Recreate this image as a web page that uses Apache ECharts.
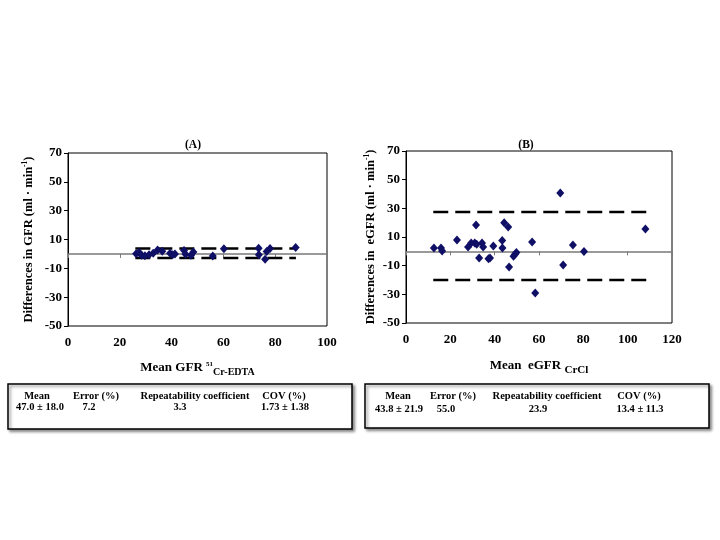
<!DOCTYPE html>
<html>
<head>
<meta charset="utf-8">
<script src="https://cdn.jsdelivr.net/npm/echarts@6/dist/echarts.min.js"></script>
<style>html,body{margin:0;padding:0;background:#fff}#c{width:720px;height:540px}</style>
</head>
<body>
<div id="c"></div>
<script>
// ---- Data ----
const yTicks = [-50, -30, -10, 10, 30, 50, 70];
const xTicksA = [0, 20, 40, 60, 80, 100];
const xTicksB = [0, 20, 40, 60, 80, 100, 120];

const meanA = [26.3, 27.5, 28.4, 29.7, 31.3, 32.9, 34.6, 36.4, 39.4, 40.4, 41.3, 44.8, 45.4, 47.5, 48.4, 55.9, 60.2, 73.6, 73.7, 76.1, 76.7, 78.0, 87.9];
const diffA = [0.2, 0.9, -0.9, -1.2, -0.5, 0.5, 2.8, 1.9, 0.5, -0.5, 0.0, 2.3, -0.2, -0.9, 1.4, -1.4, 3.5, 4.0, -0.5, -3.7, 1.6, 3.7, 4.4];
const limitsA = [3.7, -2.9];       // upper, lower limit of agreement
const limitSpanA = [26.0, 88.0];   // x extent of limit lines

const meanB = [12.6, 15.8, 16.3, 23.0, 28.0, 29.4, 31.0, 31.6, 31.9, 33.0, 34.3, 34.8, 37.2, 37.9, 39.4, 43.4, 43.5, 44.3, 46.1, 46.5, 48.5, 49.2, 49.8, 56.9, 58.3, 69.6, 70.9, 75.3, 80.3, 108.0];
const diffB = [2.3, 2.3, 0.2, 7.9, 3.0, 5.8, 5.8, 18.4, 4.9, -4.7, 5.8, 3.0, -5.1, -4.7, 3.7, 7.5, 2.3, 20.0, 17.0, -11.0, -3.5, -2.1, -0.9, 6.5, -29.1, 40.7, -9.6, 4.4, -0.2, 15.6];
const limitsB = [27.4, -20.0];
const limitSpanB = [12.3, 108.4];

const tableHeaders = ['Mean', 'Error (%)', 'Repeatability coefficient', 'COV (%)'];
const tableValuesA = ['47.0 ± 18.0', '7.2', '3.3', '1.73 ± 1.38'];
const tableValuesB = ['43.8 ± 21.9', '55.0', '23.9', '13.4 ± 11.3'];

// ---- Layout / style ----
const FONT = 'Liberation Serif';
const NAVY = '#0f0f66';
const headerXA = [37, 96, 195, 284];
const valueXA = [40, 89, 180, 285];
const headerXB = [398, 453, 547, 639];
const valueXB = [399, 446, 538, 640];

const chart = echarts.init(document.getElementById('c'), null, {renderer: 'canvas'});

function pairs(xs, ys) { return xs.map((x, i) => [x, ys[i]]); }

function yAxisCfg(gridIndex, nameStr, nameGap) {
  return {
    type: 'value', gridIndex, min: yTicks[0], max: yTicks[yTicks.length - 1], interval: 20,
    axisLine: {show: true, lineStyle: {color: '#000', width: 1}},
    axisTick: {show: true, length: 4, lineStyle: {color: '#000'}},
    axisLabel: {fontFamily: FONT, fontWeight: 'bold', fontSize: 13, color: '#000', margin: 6},
    splitLine: {show: false},
    name: nameStr, nameLocation: 'middle', nameGap, nameRotate: 90,
    nameTextStyle: {
      fontFamily: FONT, fontWeight: 'bold', fontSize: 12.5, color: '#000',
      rich: {
        a: {fontFamily: FONT, fontWeight: 'bold', fontSize: 12.5, color: '#000', lineHeight: 14, verticalAlign: 'bottom'},
        s: {fontFamily: FONT, fontWeight: 'bold', fontSize: 7.5, color: '#000', lineHeight: 14, verticalAlign: 'top'}
      }
    }
  };
}

function xAxisMain(gridIndex, ticks, nameStr, nameGap, rich) {
  return {
    type: 'value', gridIndex, position: 'bottom', min: ticks[0], max: ticks[ticks.length - 1], interval: 20,
    axisLine: {show: false, onZero: false},
    axisTick: {show: false},
    axisLabel: {fontFamily: FONT, fontWeight: 'bold', fontSize: 13, color: '#000', margin: 10},
    splitLine: {show: false},
    name: nameStr, nameLocation: 'middle', nameGap,
    nameTextStyle: {fontFamily: FONT, fontWeight: 'bold', fontSize: 13, color: '#000', rich}
  };
}

function xAxisZero(gridIndex, ticks) {
  return {
    type: 'value', gridIndex, position: 'top', min: ticks[0], max: ticks[ticks.length - 1], interval: 20,
    axisLine: {show: true, onZero: true, lineStyle: {color: '#7a7a7a', width: 1.5}},
    axisTick: {show: true, inside: true, length: 4, lineStyle: {color: '#7a7a7a'}},
    axisLabel: {show: false},
    splitLine: {show: false}
  };
}

const richA = {
  m: {fontFamily: FONT, fontWeight: 'bold', fontSize: 13, color: '#000', lineHeight: 18, verticalAlign: 'middle'},
  sup: {fontFamily: FONT, fontWeight: 'bold', fontSize: 7, color: '#000', lineHeight: 18, verticalAlign: 'top', padding: [2, 0, 0, 0]},
  sub: {fontFamily: FONT, fontWeight: 'bold', fontSize: 10, color: '#000', lineHeight: 18, verticalAlign: 'bottom'}
};
const richB = {
  m: {fontFamily: FONT, fontWeight: 'bold', fontSize: 13, color: '#000', lineHeight: 20, verticalAlign: 'middle'},
  sub: {fontFamily: FONT, fontWeight: 'bold', fontSize: 11, color: '#000', lineHeight: 20, verticalAlign: 'bottom'}
};

function limitSeries(xIdx, yIdx, span, val) {
  return {
    type: 'line', xAxisIndex: xIdx, yAxisIndex: yIdx, symbol: 'none', silent: true, z: 2,
    data: [[span[0], val], [span[1], val]],
    lineStyle: {color: '#000', width: 2.5, type: [15, 7]}
  };
}

function tableGraphics(box, headerX, valueX, values, headerY, valueY) {
  const g = [{
    type: 'rect', shape: {x: box[0], y: box[1], width: box[2], height: box[3]},
    style: {fill: '#fff', stroke: '#000', lineWidth: 1.5, shadowBlur: 3, shadowOffsetX: 2, shadowOffsetY: 2, shadowColor: 'rgba(0,0,0,0.45)'}
  }];
  tableHeaders.forEach((t, i) => g.push({
    type: 'text', x: headerX[i], y: headerY,
    style: {text: t, fontFamily: FONT, fontWeight: 'bold', fontSize: 10.5, fill: '#000', align: 'center', verticalAlign: 'middle'}
  }));
  values.forEach((t, i) => g.push({
    type: 'text', x: valueX[i], y: valueY,
    style: {text: t, fontFamily: FONT, fontWeight: 'bold', fontSize: 10.5, fill: '#000', align: 'center', verticalAlign: 'middle'}
  }));
  return g;
}

const option = {
  backgroundColor: '#fff',
  animation: false,
  title: [
    {text: '(A)', left: 188, top: 134, textAlign: 'center',
     textStyle: {fontFamily: FONT, fontWeight: 'bold', fontSize: 11.5, color: '#000'}},
    {text: '(B)', left: 521, top: 134, textAlign: 'center',
     textStyle: {fontFamily: FONT, fontWeight: 'bold', fontSize: 11.5, color: '#000'}}
  ],
  grid: [
    {left: 68, top: 153, width: 259, height: 173, show: true, borderColor: '#000', borderWidth: 1, backgroundColor: '#fff'},
    {left: 406, top: 151, width: 266, height: 172, show: true, borderColor: '#000', borderWidth: 1, backgroundColor: '#fff'}
  ],
  xAxis: [
    xAxisMain(0, xTicksA, '{m|Mean GFR }{sup|51}{sub|Cr-EDTA}', 33, richA),
    xAxisZero(0, xTicksA),
    xAxisMain(1, xTicksB, '{m|Mean  eGFR }{sub|CrCl}', 33, richB),
    xAxisZero(1, xTicksB)
  ],
  yAxis: [
    yAxisCfg(0, '{a|Differences in GFR (ml · min}{s|-1}{a|)}', 33),
    yAxisCfg(1, '{a|Differences in  eGFR (ml · min}{s|-1}{a|)}', 29)
  ],
  series: [
    limitSeries(0, 0, limitSpanA, limitsA[0]),
    limitSeries(0, 0, limitSpanA, limitsA[1]),
    {type: 'scatter', xAxisIndex: 0, yAxisIndex: 0, symbol: 'diamond', symbolSize: [8, 9], z: 5,
     itemStyle: {color: NAVY, opacity: 1}, data: pairs(meanA, diffA)},
    limitSeries(2, 1, limitSpanB, limitsB[0]),
    limitSeries(2, 1, limitSpanB, limitsB[1]),
    {type: 'scatter', xAxisIndex: 2, yAxisIndex: 1, symbol: 'diamond', symbolSize: [8, 9], z: 5,
     itemStyle: {color: NAVY, opacity: 1}, data: pairs(meanB, diffB)}
  ],
  graphic: [].concat(
    tableGraphics([8, 384, 344, 45], headerXA, valueXA, tableValuesA, 396, 407),
    tableGraphics([365, 384, 344, 44], headerXB, valueXB, tableValuesB, 396, 409)
  )
};
chart.setOption(option);
</script>
</body>
</html>
